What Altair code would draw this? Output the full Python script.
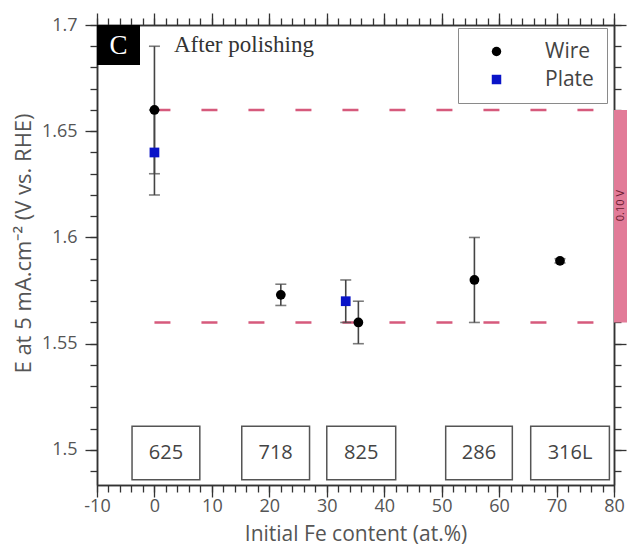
import altair as alt
import pandas as pd

# ---------------- data ----------------
wire_x = [0, 22, 35.5, 55.7, 70.6]
wire_y = [1.66, 1.573, 1.56, 1.58, 1.589]
wire_err = [0.03, 0.005, 0.01, 0.02, 0.001]

plate_x = [0, 33.3]
plate_y = [1.64, 1.57]
plate_err = [0.02, 0.01]

ref_levels = [1.66, 1.56]
ref_x_start = 0
ref_x_end = 80

alloy_names = ["625", "718", "825", "286", "316L"]
alloy_x0 = [-3.9, 15.2, 30.0, 50.7, 65.5]
alloy_x1 = [7.9, 27.0, 42.0, 62.3, 79.2]
alloy_y0 = 1.486
alloy_y1 = 1.5112

band_label = "0.10 V"

x_major = list(range(-10, 81, 10))
x_minor = list(range(-10, 81, 2))
y_major = [1.5, 1.55, 1.6, 1.65, 1.7]
y_minor = [round(1.49 + 0.01 * i, 2) for i in range(22)]

# ---------------- tables ----------------
pts = pd.DataFrame({
    "x": wire_x + plate_x,
    "y": wire_y + plate_y,
    "err": wire_err + plate_err,
    "Type": ["Wire"] * len(wire_x) + ["Plate"] * len(plate_x),
})
pts["lo"] = pts["y"] - pts["err"]
pts["hi"] = pts["y"] + pts["err"]

refs = pd.DataFrame({"y": ref_levels, "x": ref_x_start, "x2": ref_x_end})
alloys = pd.DataFrame({"name": alloy_names, "x0": alloy_x0, "x1": alloy_x1,
                       "y0": alloy_y0, "y1": alloy_y1})
alloys["xc"] = (alloys["x0"] + alloys["x1"]) / 2
alloys["yc"] = (alloys["y0"] + alloys["y1"]) / 2
band = pd.DataFrame({"x": [80], "x2": [82.4], "y": [min(ref_levels)], "y2": [max(ref_levels)],
                     "lab": [band_label], "xt": [81.2], "yt": [1.615]})

W, H = 517, 460
FONT = "Open Sans"
AX = "#333333"
TXT = "#555555"

xs = alt.Scale(domain=[-10, 80], nice=False, zero=False)
ys = alt.Scale(domain=[1.4835, 1.7], nice=False, zero=False)


def xaxis(orient, values, size, labels, title=None):
    kw = dict(orient=orient, values=values, tickSize=size, labels=labels, grid=False,
              domainColor=AX, domainWidth=1.5, tickColor=AX, tickWidth=1.3,
              labelFont=FONT, labelFontSize=18, labelColor=TXT, labelPadding=0,
              labelFlush=False, labelOverlap=False, labelExpr="'' + datum.value")
    if title:
        kw.update(title=title, titleFont=FONT, titleFontSize=21, titleColor=TXT,
                  titleFontWeight="normal", titlePadding=8)
    else:
        kw.update(title=None)
    return alt.Axis(**kw)


def yaxis(orient, values, size, labels, title=None):
    kw = dict(orient=orient, values=values, tickSize=size, labels=labels, grid=False,
              domainColor=AX, domainWidth=1.5, tickColor=AX, tickWidth=1.3,
              labelFont=FONT, labelFontSize=18, labelColor=TXT, labelPadding=8,
              labelFlush=False, labelOverlap=False, format="~g")
    if title:
        kw.update(title=title, titleFont=FONT, titleFontSize=22, titleColor=TXT,
                  titleFontWeight="normal", titleX=-62, titleY=218)
    else:
        kw.update(title=None)
    return alt.Axis(**kw)


base_pts = alt.Chart(pts)

# error bar stems (bottom minor / left minor axes)
stems = base_pts.mark_rule(color="#444444", strokeWidth=1.6).encode(
    x=alt.X("x:Q", scale=xs, axis=xaxis("bottom", x_minor, 7, False)),
    y=alt.Y("lo:Q", scale=ys, axis=yaxis("left", y_minor, 7, False)),
    y2="hi:Q",
)

# caps (top major / right major)
caps = base_pts.transform_fold(["lo", "hi"], as_=["end", "v"]).mark_tick(
    color="#444444", thickness=1.6, size=11, orient="horizontal").encode(
    x=alt.X("x:Q", scale=xs, axis=xaxis("top", x_major, 12, False)),
    y=alt.Y("v:Q", scale=ys, axis=yaxis("right", y_major, 12, False)),
)

# dashed reference lines (top minor / right minor)
dashed = alt.Chart(refs).mark_rule(color="#d65a7c", strokeWidth=2.5,
                                   strokeDash=[16, 31]).encode(
    x=alt.X("x:Q", scale=xs, axis=xaxis("top", x_minor, 7, False)),
    x2="x2:Q",
    y=alt.Y("y:Q", scale=ys, axis=yaxis("right", y_minor, 7, False)),
)

# points with legend (bottom major / left major with labels)
points = base_pts.mark_point(filled=True, opacity=1, size=95).encode(
    x=alt.X("x:Q", scale=xs,
            axis=xaxis("bottom", x_major, 12, True, "Initial Fe content (at.%)")),
    y=alt.Y("y:Q", scale=ys,
            axis=yaxis("left", y_major, 12, True, "E at 5 mA.cm⁻² (V vs. RHE)")),
    color=alt.Color("Type:N",
                    scale=alt.Scale(domain=["Wire", "Plate"], range=["#000000", "#0a14c8"]),
                    legend=alt.Legend(orient="none", legendX=361, legendY=3, title=None,
                                      strokeColor="#8a8a8a", fillColor="white",
                                      padding=13, symbolOffset=15, labelOffset=38,
                                      labelFont=FONT, labelFontSize=21, labelColor="#444444",
                                      symbolSize=90, rowPadding=6)),
    shape=alt.Shape("Type:N",
                    scale=alt.Scale(domain=["Wire", "Plate"], range=["circle", "square"])),
)

# alloy boxes
boxes = alt.Chart(alloys).mark_rect(fill="white", stroke="#555555", strokeWidth=1.5).encode(
    x=alt.X("x0:Q", scale=xs, axis=None), x2="x1:Q",
    y=alt.Y("y0:Q", scale=ys, axis=None), y2="y1:Q",
)
box_text = alt.Chart(alloys).mark_text(font=FONT, fontSize=20, color="#444444").encode(
    x=alt.X("xc:Q", scale=xs, axis=None),
    y=alt.Y("yc:Q", scale=ys, axis=None),
    text="name:N",
)

# pink band outside right edge
band_rect = alt.Chart(band).mark_rect(color="#e27b98", clip=False).encode(
    x=alt.X("x:Q", scale=xs, axis=None), x2="x2:Q",
    y=alt.Y("y:Q", scale=ys, axis=None), y2="y2:Q",
)
band_text = alt.Chart(band).mark_text(font=FONT, fontSize=11, color="#6a1a30",
                                      angle=270, clip=False).encode(
    x=alt.X("xt:Q", scale=xs, axis=None),
    y=alt.Y("yt:Q", scale=ys, axis=None),
    text="lab:N",
)

# panel tag and note
tag_box = alt.Chart(pd.DataFrame({"k": [0]})).mark_rect(color="black").encode(
    x=alt.value(0), x2=alt.value(43), y=alt.value(0), y2=alt.value(40))
tag_text = alt.Chart(pd.DataFrame({"t": ["C"]})).mark_text(
    font="Liberation Serif", fontSize=27, color="white").encode(
    x=alt.value(21.5), y=alt.value(21), text="t:N")
note = alt.Chart(pd.DataFrame({"t": ["After polishing"]})).mark_text(
    font="Liberation Serif", fontSize=23, color="#333333", align="left").encode(
    x=alt.value(77), y=alt.value(20), text="t:N")

chart = alt.layer(
    band_rect, band_text, boxes, box_text, dashed, stems, caps, points,
    tag_box, tag_text, note,
).resolve_axis(x="independent", y="independent").properties(
    width=W, height=H,
    autosize=alt.AutoSizeParams(type="none"),
    padding={"left": 97, "top": 25, "right": 13, "bottom": 64},
).configure_view(stroke=None).configure(background="white")

chart.save("out.html", embed_options={"renderer": "svg", "actions": False})
